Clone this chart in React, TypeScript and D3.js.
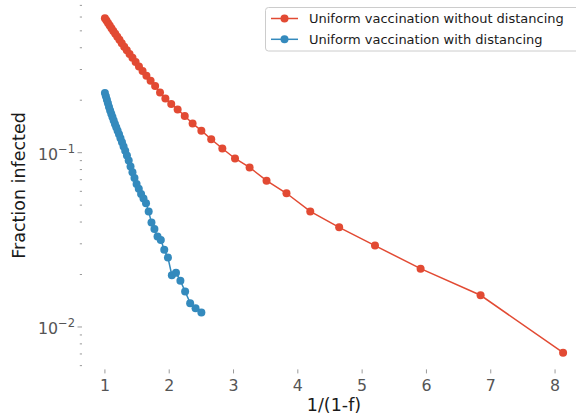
import React from "react";
import * as d3 from "d3";

const W = 576;
const H = 419;

const seriesNames = [
  "Uniform vaccination without distancing",
  "Uniform vaccination with distancing",
];
const seriesColors = ["#E24A33", "#348ABD"];

const redX = [
  1, 1.0236, 1.0484, 1.0744, 1.1017, 1.1304, 1.1607, 1.1927, 1.2264, 1.2621,
  1.3, 1.3402, 1.383, 1.4286, 1.4773, 1.5294, 1.5854, 1.6456, 1.7105, 1.7808,
  1.8571, 1.9403, 2.0313, 2.1311, 2.2414, 2.3636, 2.5, 2.6531, 2.8261, 3.0233,
  3.25, 3.5135, 3.8235, 4.1935, 4.6429, 5.2, 5.9091, 6.8421, 8.125,
];
const redY = [
  0.59, 0.5727, 0.5542, 0.5362, 0.5181, 0.4992, 0.4812, 0.4619, 0.444, 0.4249,
  0.4057, 0.3868, 0.3684, 0.3499, 0.331, 0.3127, 0.2946, 0.2765, 0.2588, 0.2414,
  0.2215, 0.2047, 0.1903, 0.177, 0.1624, 0.1471, 0.1337, 0.1194, 0.1057, 0.0926,
  0.0823, 0.0691, 0.0585, 0.046, 0.0373, 0.0293, 0.0216, 0.0152, 0.00712,
];

const blueX = [
  1, 1.0152, 1.0309, 1.0471, 1.0638, 1.0811, 1.0989, 1.1173, 1.1364, 1.1561,
  1.1765, 1.1976, 1.2195, 1.2422, 1.2658, 1.2903, 1.3158, 1.3423, 1.3699, 1.3986,
  1.4286, 1.4599, 1.4925, 1.5267, 1.5625, 1.6, 1.6393, 1.6807, 1.7241, 1.7699,
  1.8182, 1.8692, 1.9231, 1.9802, 2.0408, 2.1053, 2.1739, 2.2472, 2.3256, 2.4096,
  2.5,
];
const blueY = [
  0.2201, 0.2104, 0.2011, 0.1923, 0.1831, 0.1744, 0.167, 0.1603, 0.1529, 0.1462,
  0.1399, 0.1334, 0.1274, 0.1209, 0.1147, 0.1085, 0.1025, 0.0964, 0.0901, 0.0834,
  0.0773, 0.0715, 0.0661, 0.0621, 0.058, 0.0545, 0.0512, 0.0459, 0.0397, 0.0365,
  0.033, 0.0316, 0.0277, 0.025, 0.0198, 0.0205, 0.0184, 0.016, 0.0137, 0.0128,
  0.0121,
];

const xLabel = "1/(1-f)";
const yLabel = "Fraction infected";

export default function App() {
  const left = 82;
  const right = 586;
  const top = 1.6;
  const bottom = 369.4;

  const allX = [...redX, ...blueX];
  const allY = [...redY, ...blueY];
  const [x0, x1] = d3.extent(allX) as [number, number];
  const xPad = (x1 - x0) * 0.05;
  const [ly0, ly1] = (d3.extent(allY) as [number, number]).map(Math.log10);
  const yPad = (ly1 - ly0) * 0.05;

  const x = d3.scaleLinear().domain([x0 - xPad, x1 + xPad]).range([left, right]);
  const y = d3
    .scaleLog()
    .domain([Math.pow(10, ly0 - yPad), Math.pow(10, ly1 + yPad)])
    .range([bottom, top]);

  const xTicks = x.ticks(8);
  const yTicks = y.ticks();
  const isMajor = (v: number) => Math.abs(Math.log10(v) - Math.round(Math.log10(v))) < 1e-6;

  const line = d3
    .line<[number, number]>()
    .x((d) => x(d[0]))
    .y((d) => y(d[1]));

  const series = [
    { xs: redX, ys: redY },
    { xs: blueX, ys: blueY },
  ];

  const font = "DejaVu Sans, sans-serif";

  return (
    <svg
      width={W}
      height={H}
      style={{ position: "absolute", left: 0, top: 0, display: "block", background: "#fff" }}
      fontFamily={font}
    >
      <rect x={0} y={0} width={W} height={H} fill="#ffffff" />
      {/* y ticks */}
      {yTicks.map((t, i) => {
        const maj = isMajor(t);
        const yy = y(t);
        return (
          <g key={"yt" + i}>
            <line
              x1={left - (maj ? 4.5 : 2.2)}
              x2={left}
              y1={yy}
              y2={yy}
              stroke="#555"
              strokeWidth={0.6}
            />
            {maj && (
              <text x={75} y={yy + 7} textAnchor="end" fill="#555" fontSize={15.8}>
                <tspan>10</tspan>
                <tspan dy={-7} fontSize={11.5}>
                  {"\u2212" + String(Math.abs(Math.round(Math.log10(t))))}
                </tspan>
              </text>
            )}
          </g>
        );
      })}
      {/* x ticks */}
      {xTicks.map((t, i) => (
        <g key={"xt" + i}>
          <line x1={x(t)} x2={x(t)} y1={bottom} y2={bottom + 4} stroke="#555" strokeWidth={0.6} />
          <text x={x(t)} y={391} textAnchor="middle" fill="#555" fontSize={15.8}>
            {String(t)}
          </text>
        </g>
      ))}
      {/* series */}
      {series.map((s, si) => {
        const pts: [number, number][] = s.xs.map((v, i) => [v, s.ys[i]]);
        return (
          <g key={"s" + si}>
            <path d={line(pts) || ""} fill="none" stroke={seriesColors[si]} strokeWidth={1.5} />
            {pts.map((p, i) => (
              <circle key={i} cx={x(p[0])} cy={y(p[1])} r={4} fill={seriesColors[si]} />
            ))}
          </g>
        );
      })}
      {/* axis labels */}
      <text x={(left + right) / 2} y={411} textAnchor="middle" fontSize={17.5} fill="#1a1a1a">
        {xLabel}
      </text>
      <text
        transform={`translate(25,${(top + bottom) / 2}) rotate(-90)`}
        textAnchor="middle"
        fontSize={17.5}
        fill="#1a1a1a"
      >
        {yLabel}
      </text>
      {/* legend */}
      <g>
        <rect
          x={265.5}
          y={7.5}
          width={314}
          height={43.5}
          rx={3}
          fill="#ffffff"
          fillOpacity={0.8}
          stroke="#cccccc"
          strokeWidth={1}
        />
        {seriesNames.map((n, i) => {
          const yy = 18.5 + i * 20.8;
          return (
            <g key={"lg" + i}>
              <line x1={271} x2={298} y1={yy} y2={yy} stroke={seriesColors[i]} strokeWidth={1.5} />
              <circle cx={284.5} cy={yy} r={4} fill={seriesColors[i]} />
              <text x={309} y={yy + 4.7} fontSize={13} fill="#1a1a1a">
                {n}
              </text>
            </g>
          );
        })}
      </g>
    </svg>
  );
}
